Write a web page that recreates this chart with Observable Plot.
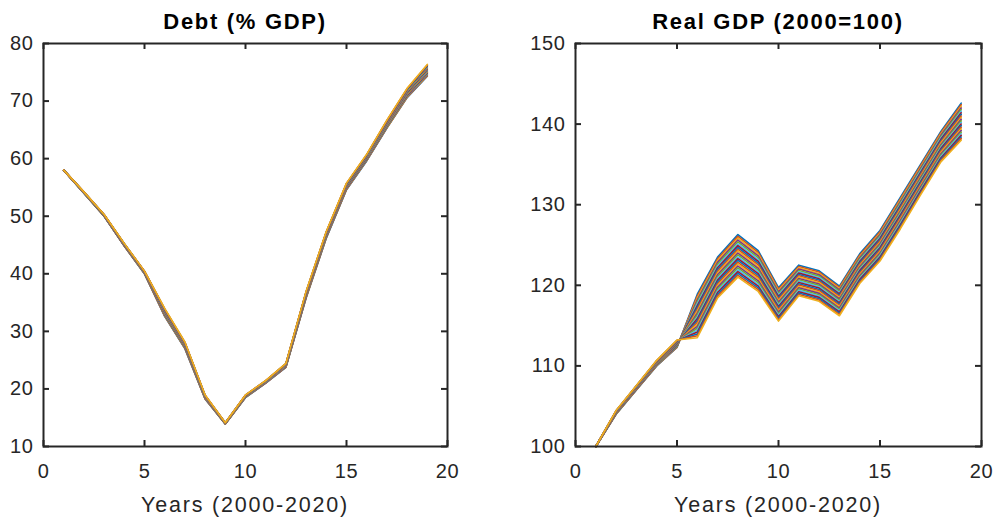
<!DOCTYPE html>
<html>
<head>
<meta charset="utf-8">
<script src="https://cdn.jsdelivr.net/npm/d3@7"></script>
<script src="https://cdn.jsdelivr.net/npm/@observablehq/plot@0.6"></script>
<style>
  html, body { margin: 0; padding: 0; background: #ffffff; }
  #wrap { position: relative; width: 996px; height: 519px; overflow: hidden; font-family: "Liberation Sans", Arial, Helvetica, sans-serif; }
  .panel { position: absolute; top: 0; }
  .title { position: absolute; font-weight: bold; font-size: 22px; line-height: 22px; letter-spacing: 1.7px; color: #000; text-align: center; white-space: nowrap; }
  .xlab { position: absolute; font-size: 21.5px; line-height: 22px; letter-spacing: 1.8px; color: #262626; text-align: center; white-space: nowrap; }
</style>
</head>
<body>
<div id="wrap"></div>
<script>
// ---------------- data ----------------
const years = [1, 2, 3, 4, 5, 6, 7, 8, 9, 10, 11, 12, 13, 14, 15, 16, 17, 18, 19];
const xTicks = [0, 5, 10, 15, 20];
const debtTicks = [10, 20, 30, 40, 50, 60, 70, 80];
const gdpTicks = [100, 110, 120, 130, 140, 150];
const panelTitles = ["Debt (% GDP)", "Real GDP (2000=100)"];
const xLabel = "Years (2000-2020)";
const lineColors = ["#0072BD", "#D95319", "#EDB120", "#7E2F8E", "#77AC30", "#4DBEEE", "#A2142F"];

// Debt (% GDP): one row per year, 24 simulated runs per row (run 0 ... run 23)
const debtByYear = [
  [58,58,58,58,58,58,58,58,58,58,58,58,58,58,58,58,58,58,58,58,58,58,58,58],
  [54.00,54.01,54.02,54.03,54.04,54.05,54.06,54.07,54.08,54.09,54.10,54.11,54.12,54.13,54.14,54.15,54.16,54.17,54.18,54.19,54.20,54.21,54.22,54.23],
  [50.00,50.01,50.03,50.04,50.05,50.07,50.08,50.09,50.10,50.12,50.13,50.14,50.16,50.17,50.18,50.20,50.21,50.22,50.23,50.25,50.26,50.27,50.29,50.30],
  [44.80,44.82,44.84,44.86,44.88,44.90,44.92,44.94,44.96,44.98,45.00,45.02,45.04,45.06,45.08,45.10,45.12,45.14,45.16,45.18,45.20,45.22,45.24,45.26],
  [40.00,40.02,40.04,40.06,40.08,40.10,40.12,40.14,40.16,40.18,40.20,40.22,40.24,40.26,40.28,40.30,40.32,40.34,40.36,40.38,40.40,40.42,40.44,40.46],
  [32.60,32.66,32.72,32.78,32.84,32.90,32.96,33.02,33.08,33.14,33.20,33.26,33.32,33.38,33.44,33.50,33.56,33.62,33.68,33.74,33.80,33.86,33.92,33.98],
  [27.00,27.05,27.10,27.15,27.20,27.25,27.30,27.35,27.40,27.45,27.50,27.55,27.60,27.65,27.70,27.75,27.80,27.85,27.90,27.95,28.00,28.05,28.10,28.15],
  [18.25,18.28,18.31,18.34,18.37,18.40,18.43,18.46,18.49,18.52,18.55,18.58,18.61,18.64,18.67,18.70,18.73,18.76,18.79,18.82,18.85,18.88,18.91,18.94],
  [13.90,13.91,13.92,13.93,13.94,13.95,13.96,13.97,13.98,13.99,14.00,14.01,14.02,14.03,14.04,14.05,14.06,14.07,14.08,14.09,14.10,14.11,14.12,14.13],
  [18.50,18.52,18.54,18.56,18.58,18.60,18.62,18.64,18.66,18.68,18.70,18.72,18.74,18.76,18.78,18.80,18.82,18.84,18.86,18.88,18.90,18.92,18.94,18.96],
  [21.00,21.02,21.04,21.06,21.08,21.10,21.12,21.14,21.16,21.18,21.20,21.22,21.24,21.26,21.28,21.30,21.32,21.34,21.36,21.38,21.40,21.42,21.44,21.46],
  [23.75,23.78,23.81,23.84,23.87,23.90,23.93,23.96,23.99,24.02,24.05,24.08,24.11,24.14,24.17,24.20,24.23,24.26,24.29,24.32,24.35,24.38,24.41,24.44],
  [35.80,35.85,35.90,35.95,36.00,36.05,36.10,36.15,36.20,36.25,36.30,36.35,36.40,36.45,36.50,36.55,36.60,36.65,36.70,36.75,36.80,36.85,36.90,36.95],
  [46.20,46.25,46.30,46.35,46.40,46.45,46.50,46.55,46.60,46.65,46.70,46.75,46.80,46.85,46.90,46.95,47.00,47.05,47.10,47.15,47.20,47.25,47.30,47.35],
  [54.60,54.65,54.70,54.75,54.80,54.85,54.90,54.95,55.00,55.05,55.10,55.15,55.20,55.25,55.30,55.35,55.40,55.45,55.50,55.55,55.60,55.65,55.70,55.75],
  [59.60,59.65,59.70,59.75,59.80,59.85,59.90,59.95,60.00,60.05,60.10,60.15,60.20,60.25,60.30,60.35,60.40,60.45,60.50,60.55,60.60,60.65,60.70,60.75],
  [65.30,65.36,65.42,65.48,65.54,65.60,65.66,65.72,65.78,65.84,65.90,65.96,66.02,66.08,66.14,66.20,66.26,66.32,66.38,66.44,66.50,66.56,66.62,66.68],
  [70.60,70.67,70.74,70.81,70.88,70.95,71.02,71.09,71.16,71.23,71.30,71.37,71.44,71.51,71.58,71.65,71.72,71.79,71.86,71.93,72.00,72.07,72.14,72.21],
  [74.30,74.39,74.48,74.57,74.66,74.75,74.84,74.93,75.02,75.11,75.20,75.29,75.38,75.47,75.56,75.65,75.74,75.83,75.92,76.01,76.10,76.19,76.28,76.37]
];

// Real GDP (2000=100): one row per year, 24 simulated runs per row (run 0 ... run 23)
const gdpByYear = [
  [100,100,100,100,100,100,100,100,100,100,100,100,100,100,100,100,100,100,100,100,100,100,100,100],
  [104.00,104.02,104.04,104.06,104.08,104.10,104.12,104.14,104.16,104.18,104.20,104.22,104.24,104.26,104.28,104.30,104.32,104.34,104.36,104.38,104.40,104.42,104.44,104.46],
  [107.00,107.03,107.05,107.08,107.10,107.13,107.15,107.18,107.20,107.23,107.25,107.28,107.30,107.33,107.35,107.38,107.40,107.43,107.45,107.48,107.50,107.53,107.55,107.58],
  [110.00,110.03,110.06,110.09,110.12,110.15,110.18,110.21,110.24,110.27,110.30,110.33,110.36,110.39,110.42,110.45,110.48,110.51,110.54,110.57,110.60,110.63,110.66,110.69],
  [112.30,112.34,112.38,112.42,112.46,112.50,112.54,112.58,112.62,112.66,112.70,112.74,112.78,112.82,112.86,112.90,112.94,112.98,113.02,113.06,113.10,113.14,113.18,113.22],
  [118.90,118.67,118.43,118.20,117.96,117.73,117.49,117.26,117.02,116.79,116.55,116.32,116.08,115.85,115.61,115.38,115.14,114.91,114.67,114.44,114.20,113.97,113.73,113.50],
  [123.50,123.28,123.06,122.84,122.62,122.40,122.18,121.96,121.74,121.52,121.30,121.08,120.86,120.64,120.42,120.20,119.98,119.76,119.54,119.32,119.10,118.88,118.66,118.44],
  [126.30,126.07,125.84,125.61,125.38,125.15,124.92,124.69,124.46,124.23,124.00,123.77,123.54,123.31,123.08,122.85,122.62,122.39,122.16,121.93,121.70,121.47,121.24,121.01],
  [124.30,124.08,123.86,123.64,123.42,123.20,122.98,122.76,122.54,122.32,122.10,121.88,121.66,121.44,121.22,121.00,120.78,120.56,120.34,120.12,119.90,119.68,119.46,119.24],
  [119.70,119.52,119.34,119.16,118.98,118.80,118.62,118.44,118.26,118.08,117.90,117.72,117.54,117.36,117.18,117.00,116.82,116.64,116.46,116.28,116.10,115.92,115.74,115.56],
  [122.50,122.34,122.17,122.01,121.84,121.68,121.51,121.35,121.18,121.02,120.85,120.69,120.52,120.36,120.19,120.03,119.86,119.70,119.53,119.37,119.20,119.04,118.87,118.71],
  [121.80,121.64,121.47,121.31,121.14,120.98,120.81,120.65,120.48,120.32,120.15,119.99,119.82,119.66,119.49,119.33,119.16,119.00,118.83,118.67,118.50,118.34,118.17,118.01],
  [119.90,119.74,119.58,119.42,119.26,119.10,118.94,118.78,118.62,118.46,118.30,118.14,117.98,117.82,117.66,117.50,117.34,117.18,117.02,116.86,116.70,116.54,116.38,116.22],
  [123.90,123.74,123.58,123.42,123.26,123.10,122.94,122.78,122.62,122.46,122.30,122.14,121.98,121.82,121.66,121.50,121.34,121.18,121.02,120.86,120.70,120.54,120.38,120.22],
  [126.80,126.64,126.47,126.31,126.14,125.98,125.81,125.65,125.48,125.32,125.15,124.99,124.82,124.66,124.49,124.33,124.16,124.00,123.83,123.67,123.50,123.34,123.17,123.01],
  [130.90,130.73,130.56,130.39,130.22,130.05,129.88,129.71,129.54,129.37,129.20,129.03,128.86,128.69,128.52,128.35,128.18,128.01,127.84,127.67,127.50,127.33,127.16,126.99],
  [135.00,134.84,134.67,134.51,134.34,134.18,134.01,133.85,133.68,133.52,133.35,133.19,133.02,132.86,132.69,132.53,132.36,132.20,132.03,131.87,131.70,131.54,131.37,131.21],
  [139.10,138.94,138.77,138.61,138.44,138.28,138.11,137.95,137.78,137.62,137.45,137.29,137.12,136.96,136.79,136.63,136.46,136.30,136.13,135.97,135.80,135.64,135.47,135.31],
  [142.60,142.40,142.20,142.00,141.80,141.60,141.40,141.20,141.00,140.80,140.60,140.40,140.20,140.00,139.80,139.60,139.40,139.20,139.00,138.80,138.60,138.40,138.20,138.00]
];

// ---------------- drawing ----------------
const wrap = document.getElementById("wrap");
const H = 519, MT = 43, MB = 73;
const innerH = H - MT - MB;
const axisColor = "#262626";

function toRows(byYear) {
  const rows = [];
  byYear.forEach((col, i) => col.forEach((v, run) => rows.push({year: years[i], run, value: v})));
  return rows;
}

function panel({byYear, yDomain, yTicks, left, width, marginLeft, marginRight, title}) {
  const innerW = width - marginLeft - marginRight;
  const chart = Plot.plot({
    width, height: H,
    marginLeft, marginRight, marginTop: MT, marginBottom: MB,
    x: {domain: [0, 20]},
    y: {domain: yDomain},
    style: {fontFamily: '"Liberation Sans", Arial, Helvetica, sans-serif', fontSize: "20px", color: axisColor, background: "transparent", overflow: "visible", letterSpacing: "0.6px"},
    marks: [
      Plot.line(toRows(byYear), {x: "year", y: "value", z: "run", stroke: d => lineColors[d.run % lineColors.length], strokeWidth: 1.6, curve: "linear"}),
      Plot.ruleX(xTicks, {x: d => d, stroke: axisColor, strokeWidth: 2, insetTop: innerH - 6}),
      Plot.ruleX(xTicks, {x: d => d, stroke: axisColor, strokeWidth: 2, insetBottom: innerH - 6}),
      Plot.ruleY(yTicks, {y: d => d, stroke: axisColor, strokeWidth: 2, insetRight: innerW - 6}),
      Plot.ruleY(yTicks, {y: d => d, stroke: axisColor, strokeWidth: 2, insetLeft: innerW - 6}),
      Plot.frame({stroke: axisColor, strokeWidth: 2}),
      Plot.axisX({ticks: xTicks, tickSize: 0, tickPadding: 17, label: null, fontSize: 20}),
      Plot.axisY({ticks: yTicks, tickSize: 0, tickPadding: 10, label: null, fontSize: 20})
    ]
  });
  const holder = document.createElement("div");
  holder.className = "panel";
  holder.style.left = left + "px";
  holder.appendChild(chart);
  wrap.appendChild(holder);

  const cx = left + marginLeft + innerW / 2;
  const t = document.createElement("div");
  t.className = "title";
  t.textContent = title;
  t.style.left = (cx - 200) + "px";
  t.style.width = "400px";
  t.style.top = "11px";
  wrap.appendChild(t);

  const xl = document.createElement("div");
  xl.className = "xlab";
  xl.textContent = xLabel;
  xl.style.left = (cx - 200) + "px";
  xl.style.width = "400px";
  xl.style.top = "494px";
  wrap.appendChild(xl);
}

panel({byYear: debtByYear, yDomain: [10, 80], yTicks: debtTicks, left: 0, width: 498, marginLeft: 43, marginRight: 51, title: panelTitles[0]});
panel({byYear: gdpByYear, yDomain: [100, 150], yTicks: gdpTicks, left: 498, width: 498, marginLeft: 77, marginRight: 15, title: panelTitles[1]});
</script>
</body>
</html>
